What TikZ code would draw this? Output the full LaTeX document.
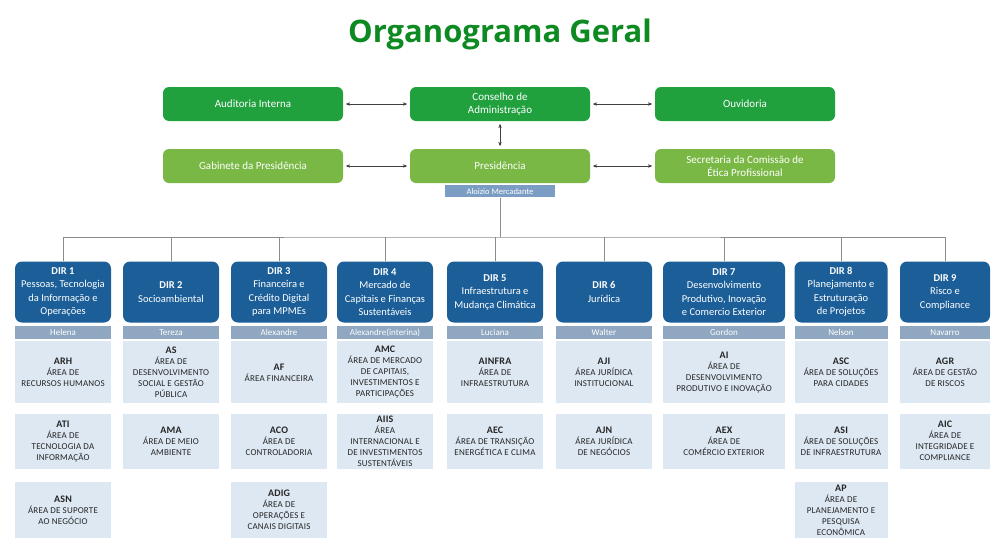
\documentclass[tikz,border=0pt]{standalone}
\usepackage{fontspec}
\setmainfont{Carlito}
\newfontfamily\titlefont{Open Sans}
\newfontfamily\capsfont[LetterSpace=2]{Carlito}
\usepackage{tikz}
\usetikzlibrary{arrows,positioning}
\definecolor{titlegreen}{HTML}{0E8A22}
\definecolor{darkgreen}{HTML}{21A03E}
\definecolor{lightgreen}{HTML}{79B844}
\definecolor{dirblue}{HTML}{1B5E98}
\definecolor{namegray}{HTML}{8FA7C0}
\definecolor{chiefblue}{HTML}{7C9DC3}
\definecolor{cellblue}{HTML}{DDE8F3}
\newcommand{\sigla}[1]{{\fontsize{10}{11}\selectfont\bfseries #1}}
\tikzset{
    %Define standard arrow tip
    >=stealth',
    %Define style for the green boxes
    topbox/.style={
           rectangle,
           rounded corners=6pt,
           minimum width=180pt,
           minimum height=34pt,
           text=white,
           align=center,
           font=\fontsize{11}{13.5}\selectfont},
    board/.style={topbox, fill=darkgreen},
    office/.style={topbox, fill=lightgreen},
    %Define style for the directorates
    dirbox/.style={
           rectangle,
           rounded corners=7pt,
           fill=dirblue,
           text=white,
           minimum height=61pt,
           inner sep=1pt,
           align=center,
           font=\fontsize{10.5}{13.5}\selectfont},
    namebar/.style={
           rectangle,
           fill=namegray,
           text=white,
           minimum height=13pt,
           inner sep=0pt,
           font=\fontsize{9}{10}\selectfont},
    area/.style={
           rectangle,
           fill=cellblue,
           minimum height=62pt,
           inner sep=1pt,
           align=center,
           text=black!85,
           font=\capsfont\fontsize{9}{11}\selectfont},
    arealow/.style={area, minimum height=55pt},
    % Define arrow style
    pil/.style={
           <->,
           black!75,
           thin,
           shorten <=3pt,
           shorten >=3pt},
    bus/.style={black!45, thin}
}
\begin{document}
\begin{tikzpicture}[x=1pt,y=-1pt]
\useasboundingbox[fill=white] (0,0) rectangle (992,538);
\clip (0,0) rectangle (992,538);

 %title
\node[font=\titlefont\bfseries\fontsize{31}{36}\selectfont, text=titlegreen] (title) at (500,34) {Organograma Geral};

 %top management
\node[board](aud) at (253,104){Auditoria Interna};
\node[board](cons) at (500,104){Conselho de\\Administração};
\node[board](ouv) at (745,104){Ouvidoria};
\node[office](gab) at (253,166){Gabinete da Presidência};
\node[office](pres) at (500,166){Presidência};
\node[office](etica) at (745,166){Secretaria da Comissão de\\Ética Profissional};
\node[rectangle, fill=chiefblue, text=white, minimum width=110pt, minimum height=12pt, inner sep=0pt,
      font=\fontsize{8.5}{9}\selectfont, below=2pt of pres](merc){Aloizio Mercadante};

\path[pil]
    (aud) edge (cons)
    (cons) edge (ouv)
    (gab) edge (pres)
    (pres) edge (etica)
    (cons) edge (pres);

 %directorates
\node[dirbox, minimum width=96pt](dir1) at (63,292){\textbf{DIR 1}\\Pessoas, Tecnologia\\da Informação e\\Operações};
\node[dirbox, minimum width=96pt](dir2) at (171,292){\textbf{DIR 2}\\Socioambiental};
\node[dirbox, minimum width=96pt](dir3) at (279,292){\textbf{DIR 3}\\Financeira e\\Crédito Digital\\para MPMEs};
\node[dirbox, minimum width=96pt](dir4) at (385,292){\textbf{DIR 4}\\Mercado de\\Capitais e Finanças\\Sustentáveis};
\node[dirbox, minimum width=96pt](dir5) at (495,292){\textbf{DIR 5}\\Infraestrutura e\\Mudança Climática};
\node[dirbox, minimum width=96pt](dir6) at (604,292){\textbf{DIR 6}\\Jurídica};
\node[dirbox, minimum width=122pt](dir7) at (724,292){\textbf{DIR 7}\\Desenvolvimento\\Produtivo, Inovação\\e Comercio Exterior};
\node[dirbox, minimum width=93pt](dir8) at (841,292){\textbf{DIR 8}\\Planejamento e\\Estruturação\\de Projetos};
\node[dirbox, minimum width=90pt](dir9) at (945,292){\textbf{DIR 9}\\Risco e\\Compliance};

\coordinate (hub) at (merc |- 0,237);
\draw[bus] (merc) -- (hub);
\draw[bus] (dir1.north) |- (hub) -| (dir9.north);
\draw[bus] (dir2.north) -- (dir2.north |- hub);
\draw[bus] (dir3.north) -- (dir3.north |- hub);
\draw[bus] (dir4.north) -- (dir4.north |- hub);
\draw[bus] (dir5.north) -- (dir5.north |- hub);
\draw[bus] (dir6.north) -- (dir6.north |- hub);
\draw[bus] (dir7.north) -- (dir7.north |- hub);
\draw[bus] (dir8.north) -- (dir8.north |- hub);

 %directors
\node[namebar, minimum width=96pt, below=3pt of dir1](hel){Helena};
\node[namebar, minimum width=96pt, below=3pt of dir2](ter){Tereza};
\node[namebar, minimum width=96pt, below=3pt of dir3](ale){Alexandre};
\node[namebar, minimum width=96pt, below=3pt of dir4](alei){Alexandre(interina)};
\node[namebar, minimum width=96pt, below=3pt of dir5](luc){Luciana};
\node[namebar, minimum width=96pt, below=3pt of dir6](wal){Walter};
\node[namebar, minimum width=122pt, below=3pt of dir7](gor){Gordon};
\node[namebar, minimum width=93pt, below=3pt of dir8](nel){Nelson};
\node[namebar, minimum width=90pt, below=3pt of dir9](nav){Navarro};

 %areas
\node[area, minimum width=96pt, below=2pt of hel](arh){\sigla{ARH}\\ÁREA DE\\RECURSOS HUMANOS};
\node[arealow, minimum width=96pt, below=10pt of arh](ati){\sigla{ATI}\\ÁREA DE\\TECNOLOGIA DA\\INFORMAÇÃO};
\node[area, minimum width=96pt, minimum height=56pt, below=13pt of ati](asn){\sigla{ASN}\\ÁREA DE SUPORTE\\AO NEGÓCIO};

\node[area, minimum width=96pt, below=2pt of ter](as){\sigla{AS}\\ÁREA DE\\DESENVOLVIMENTO\\SOCIAL E GESTÃO\\PÚBLICA};
\node[arealow, minimum width=96pt, below=10pt of as](ama){\sigla{AMA}\\ÁREA DE MEIO\\AMBIENTE};

\node[area, minimum width=96pt, below=2pt of ale](af){\sigla{AF}\\ÁREA FINANCEIRA};
\node[arealow, minimum width=96pt, below=10pt of af](aco){\sigla{ACO}\\ÁREA DE\\CONTROLADORIA};
\node[area, minimum width=96pt, minimum height=56pt, below=13pt of aco](adig){\sigla{ADIG}\\ÁREA DE\\OPERAÇÕES E\\CANAIS DIGITAIS};

\node[area, minimum width=96pt, below=2pt of alei](amc){\sigla{AMC}\\ÁREA DE MERCADO\\DE CAPITAIS,\\INVESTIMENTOS E\\PARTICIPAÇÕES};
\node[arealow, minimum width=96pt, below=10pt of amc](aiis){\sigla{AIIS}\\ÁREA\\INTERNACIONAL E\\DE INVESTIMENTOS\\SUSTENTÁVEIS};

\node[area, minimum width=96pt, below=2pt of luc](ainfra){\sigla{AINFRA}\\ÁREA DE\\INFRAESTRUTURA};
\node[arealow, minimum width=96pt, below=10pt of ainfra](aec){\sigla{AEC}\\ÁREA DE TRANSIÇÃO\\ENERGÉTICA E CLIMA};

\node[area, minimum width=96pt, below=2pt of wal](aji){\sigla{AJI}\\ÁREA JURÍDICA\\INSTITUCIONAL};
\node[arealow, minimum width=96pt, below=10pt of aji](ajn){\sigla{AJN}\\ÁREA JURÍDICA\\DE NEGÓCIOS};

\node[area, minimum width=122pt, below=2pt of gor](ai){\sigla{AI}\\ÁREA DE\\DESENVOLVIMENTO\\PRODUTIVO E INOVAÇÃO};
\node[arealow, minimum width=122pt, below=10pt of ai](aex){\sigla{AEX}\\ÁREA DE\\COMÉRCIO EXTERIOR};

\node[area, minimum width=93pt, below=2pt of nel](asc){\sigla{ASC}\\ÁREA DE SOLUÇÕES\\PARA CIDADES};
\node[arealow, minimum width=93pt, below=10pt of asc](asi){\sigla{ASI}\\ÁREA DE SOLUÇÕES\\DE INFRAESTRUTURA};
\node[area, minimum width=93pt, minimum height=56pt, below=13pt of asi](ap){\sigla{AP}\\ÁREA DE\\PLANEJAMENTO E\\PESQUISA\\ECONÔMICA};

\node[area, minimum width=90pt, below=2pt of nav](agr){\sigla{AGR}\\ÁREA DE GESTÃO\\DE RISCOS};
\node[arealow, minimum width=90pt, below=10pt of agr](aic){\sigla{AIC}\\ÁREA DE\\INTEGRIDADE E\\COMPLIANCE};
\end{tikzpicture}
\end{document}
